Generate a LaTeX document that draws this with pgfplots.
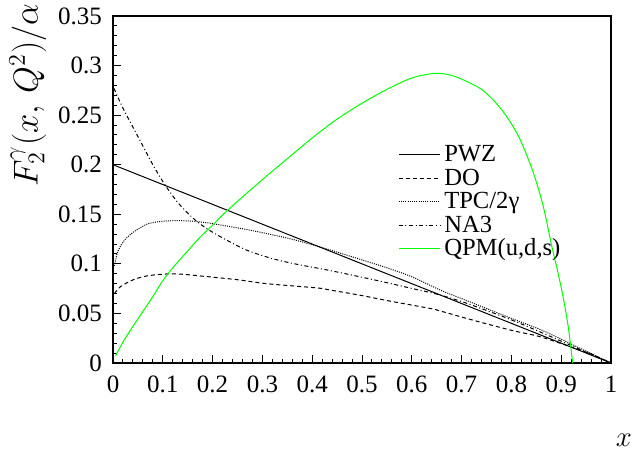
\documentclass[border=0pt]{standalone}
\usepackage{fontspec}
\setmainfont{Liberation Serif}
\usepackage{pgfplots}
\pgfplotsset{compat=1.18}
\definecolor{qpmgreen}{RGB}{0,255,0}
\begin{document}
\begin{tikzpicture}
\useasboundingbox (0,0) rectangle (316pt,227.5pt);
\begin{axis}[
  at={(56.5pt,46pt)}, anchor=south west,
  scale only axis, width=249pt, height=173.5pt,
  xmin=0, xmax=1, ymin=0, ymax=0.35,
  xtick={0,0.1,...,1.0}, ytick={0,0.05,...,0.35},
  minor x tick num=4, minor y tick num=4,
  tick pos=left, tick align=inside,
  major tick length=4.2pt, minor tick length=2.2pt,
  tick style={black, line width=0.5pt},
  axis line style={line width=0.6pt},
  /pgf/number format/assume math mode=true,
  /pgf/number format/fixed, /pgf/number format/precision=2,
  ticklabel style={font=\fontsize{12.5}{14}\selectfont},
  yticklabel style={xshift=-2pt},
  xticklabel style={yshift=-3pt},
  xlabel={$x$},
  xlabel style={at={(axis description cs:1.026,-0.222)}, anchor=center, font=\fontsize{15}{17}\selectfont},
  ylabel={$F_2^\gamma(x,\,Q^2)/\alpha$},
  ylabel style={at={(axis description cs:-0.171,1.055)}, anchor=east, font=\fontsize{16.5}{18}\selectfont},
  legend style={at={(0.568,0.647)}, anchor=north west, draw=none, fill=none,
    font=\fontsize{12.3}{13}\selectfont, row sep=-2.3pt, inner sep=1pt},
  legend cell align=left,
  legend image code/.code={\draw[#1] (0pt,0pt) -- (15pt,0pt); \path (0pt,0pt) -- (20.5pt,0pt);},
  every axis plot/.append style={line width=0.5pt},
]
% PWZ
\addplot[black] coordinates {(0,0.2) (1,0)};
\addlegendentry{\vphantom{(}PWZ}
% DO
\addplot[black, smooth, dash pattern=on 2pt off 1.5pt] coordinates {
(0.003,0.070) (0.015,0.077) (0.041,0.084) (0.07,0.088) (0.108,0.0898) (0.14,0.0895)
(0.175,0.0878) (0.25,0.084) (0.309,0.080) (0.41,0.0757) (0.436,0.0736) (0.5,0.068)
(0.55,0.063) (0.637,0.055) (0.657,0.0525) (0.717,0.044) (0.8,0.033) (0.857,0.0266)
(0.918,0.0165) (0.96,0.009) (1,0)};
\addlegendentry{\vphantom{(}DO}
% TPC/2gamma
\addplot[black, smooth, dash pattern=on 0.5pt off 0.6pt] coordinates {
(0.003,0.098) (0.008,0.11) (0.014,0.117) (0.025,0.125) (0.041,0.132) (0.06,0.138)
(0.074,0.141) (0.1,0.143) (0.128,0.1436) (0.16,0.143) (0.188,0.1415) (0.23,0.138)
(0.275,0.134) (0.35,0.126) (0.416,0.117) (0.5,0.104) (0.55,0.096) (0.6,0.087)
(0.657,0.0736) (0.7,0.065) (0.75,0.055) (0.8,0.045) (0.857,0.034) (0.9,0.024)
(0.95,0.012) (1,0)};
\addlegendentry{\vphantom{(}TPC/2γ}
% NA3
\addplot[black, smooth, dash pattern=on 2pt off 1.3pt on 0.5pt off 1.3pt] coordinates {
(0.002,0.277) (0.02,0.257) (0.04,0.238) (0.061,0.218) (0.08,0.200) (0.104,0.180)
(0.13,0.162) (0.161,0.146) (0.19,0.135) (0.228,0.124) (0.27,0.1135) (0.322,0.105)
(0.37,0.0995) (0.416,0.0952) (0.45,0.0918) (0.5,0.0865) (0.55,0.081) (0.6,0.0752)
(0.65,0.0695) (0.7,0.062) (0.75,0.053) (0.8,0.0435) (0.85,0.033) (0.9,0.022)
(0.95,0.011) (1,0)};
\addlegendentry{\vphantom{(}NA3}
% QPM
\addplot[qpmgreen, smooth] coordinates {
(0.005,0.007) (0.02,0.021) (0.04,0.037) (0.06,0.052) (0.08,0.067) (0.1,0.083)
(0.12,0.096) (0.15,0.113) (0.175,0.127) (0.2,0.139) (0.23,0.154) (0.3,0.185)
(0.35,0.206) (0.4,0.227) (0.45,0.246) (0.5,0.262) (0.55,0.276) (0.6,0.2875)
(0.643,0.292) (0.67,0.2912) (0.697,0.287) (0.737,0.277) (0.764,0.265) (0.79,0.249)
(0.817,0.226) (0.844,0.192) (0.864,0.158) (0.881,0.118) (0.894,0.09) (0.904,0.066)
(0.914,0.037) (0.923,0)};
\addlegendentry{QPM(u,d,s)}
\end{axis}
\end{tikzpicture}
\end{document}
